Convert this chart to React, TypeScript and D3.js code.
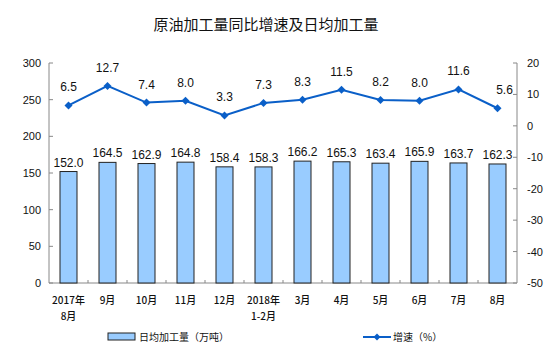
import React from "react";
import * as d3 from "d3";

const categories = ["2017年\n8月", "9月", "10月", "11月", "12月", "2018年\n1-2月", "3月", "4月", "5月", "6月", "7月", "8月"];
const dailyOutput = [152.0, 164.5, 162.9, 164.8, 158.4, 158.3, 166.2, 165.3, 163.4, 165.9, 163.7, 162.3];
const growth = [6.5, 12.7, 7.4, 8.0, 3.3, 7.3, 8.3, 11.5, 8.2, 8.0, 11.6, 5.6];
const leftTicks = [0, 50, 100, 150, 200, 250, 300];
const rightTicks = [-50, -40, -30, -20, -10, 0, 10, 20];

const W = 560, H = 356;
const L = 49, R = 517, T = 63, B = 283;

export default function App() {
  const x = d3.scaleBand<string>().domain(categories).range([L, R]).paddingInner(0).paddingOuter(0);
  const yL = d3.scaleLinear().domain([0, 300]).range([B, T]);
  const yR = d3.scaleLinear().domain([-50, 20]).range([B, T]);
  const bw = 17;
  const cx = (c: string) => (x(c) as number) + x.bandwidth() / 2;
  const line = d3.line<number>().x((_, i) => cx(categories[i])).y(d => yR(d));
  const num = "Liberation Sans, Arial, sans-serif";
  const cjk = "'Noto Sans CJK SC', sans-serif";
  const lineColor = "#0a5fc8";
  const diamond = (px: number, py: number, s: number) => `M${px},${py - s}L${px + s},${py}L${px},${py + s}L${px - s},${py}Z`;
  return (
    <svg width={W} height={H} style={{ position: "absolute", left: 0, top: 0, background: "#fff" }}>
      <text x={266} y={30} textAnchor="middle" fontFamily={cjk} fontSize={15} fill="#111">原油加工量同比增速及日均加工量</text>
      {/* axes */}
      <line x1={L} y1={T} x2={L} y2={B} stroke="#888" />
      <line x1={R} y1={T} x2={R} y2={B} stroke="#888" />
      <line x1={L} y1={B} x2={R} y2={B} stroke="#888" />
      {leftTicks.map(t => (
        <g key={"l" + t}>
          <line x1={L} x2={L + 4} y1={yL(t)} y2={yL(t)} stroke="#888" />
          <text x={L - 8} y={yL(t) + 4} textAnchor="end" fontFamily={num} fontSize={11} fill="#111">{t}</text>
        </g>
      ))}
      {rightTicks.map(t => (
        <g key={"r" + t}>
          <line x1={R - 4} x2={R} y1={yR(t)} y2={yR(t)} stroke="#888" />
          <text x={R + 10} y={yR(t) + 4} textAnchor="start" fontFamily={num} fontSize={11} fill="#111">{t}</text>
        </g>
      ))}
      {categories.slice(1).map(c => (
        <line key={"xt" + c} x1={x(c) as number} x2={x(c) as number} y1={B} y2={B - 3} stroke="#888" />
      ))}
      {/* bars */}
      {dailyOutput.map((v, i) => {
        const c = categories[i];
        return (
          <g key={"b" + i}>
            <rect x={cx(c) - bw / 2} y={yL(v)} width={bw} height={B - yL(v)} fill="#99ccff" stroke="#222" strokeWidth={1} />
            <text x={cx(c)} y={yL(v) - 5} textAnchor="middle" fontFamily={num} fontSize={12} fill="#111">{v.toFixed(1)}</text>
          </g>
        );
      })}
      {/* line */}
      <path d={line(growth) || ""} fill="none" stroke={lineColor} strokeWidth={2} />
      {growth.map((v, i) => {
        const c = categories[i];
        const px = cx(c), py = yR(v);
        const lx = i === growth.length - 1 ? px + 7 : px;
        return (
          <g key={"p" + i}>
            <path d={diamond(px, py, 4)} fill={lineColor} />
            <text x={lx} y={py - 14} textAnchor="middle" fontFamily={num} fontSize={12} fill="#111">{v.toFixed(1)}</text>
          </g>
        );
      })}
      {/* x labels */}
      {categories.map(c => {
        const parts = c.split("\n");
        return (
          <text key={"xl" + c} textAnchor="middle" fontFamily={cjk} fontSize={10} fontWeight={500} fill="#111">
            {parts.map((p, j) => (
              <tspan key={j} x={cx(c)} y={304 + j * 16}>{p}</tspan>
            ))}
          </text>
        );
      })}
      {/* legend */}
      <rect x={108} y={333} width={27} height={7} fill="#99ccff" stroke="#222" />
      <text x={139} y={341} fontFamily={cjk} fontSize={10} fill="#111">日均加工量（万吨）</text>
      <line x1={363} x2={391} y1={337} y2={337} stroke={lineColor} strokeWidth={2} />
      <path d={diamond(377, 337, 3.5)} fill={lineColor} />
      <text x={393} y={341} fontFamily={cjk} fontSize={10} fill="#111">增速（%）</text>
    </svg>
  );
}
